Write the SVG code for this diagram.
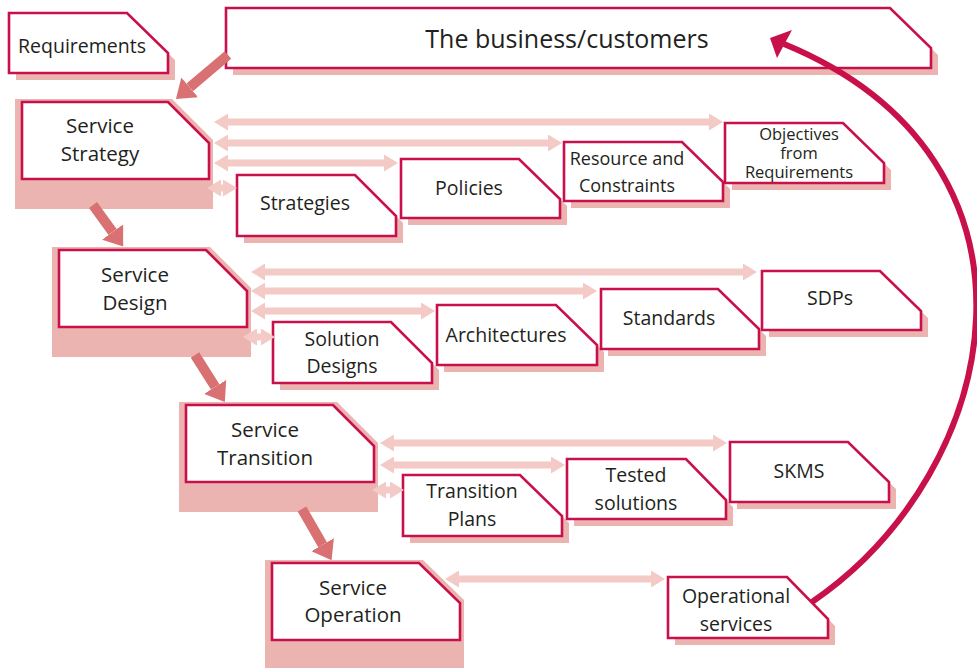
<svg xmlns="http://www.w3.org/2000/svg" width="977" height="668" viewBox="0 0 977 668">
<style>
.box{fill:#fff;stroke:#c8104a;stroke-width:2.6;stroke-linejoin:miter}
.sh{fill:#ecb4b1}
.t{font-family:"Open Sans","Noto Sans",sans-serif;fill:#231f20;text-anchor:middle}
.lg{font-size:20.5px}.md{font-size:19.5px}.sm{font-size:18px}.xs{font-size:16.5px}
.la{stroke:#f3cac5;stroke-width:7;fill:none;marker-start:url(#lh);marker-end:url(#lh)}
.ta{stroke:#d97072;stroke-width:10;fill:none;marker-end:url(#th)}
.cv{stroke:#c8104a;stroke-width:6;fill:none}
</style>
<defs>
<marker id="lh" viewBox="0 -8.5 14 17" markerWidth="14" markerHeight="17" refX="0" refY="0" markerUnits="userSpaceOnUse" orient="auto-start-reverse">
<path d="M0,-8.5 L14,0 L0,8.5 z" fill="#f3cac5"/>
</marker>
<marker id="th" viewBox="0 -13 18 26" markerWidth="18" markerHeight="26" refX="0" refY="0" markerUnits="userSpaceOnUse" orient="auto">
<path d="M0,-13 L18,0 L0,13 z" fill="#d97072"/>
</marker>
</defs>
<rect width="977" height="668" fill="#fff"/>

<g id="business">
<polygon class="sh" points="226,8 890,8 931,48 931,68 226,68" transform="translate(7,7)"/>
<polygon class="box" points="226,8 890,8 931,48 931,68 226,68"/>
<text class="t" x="567" y="48" font-size="25">The business/customers</text>
</g>
<g id="requirements">
<polygon class="sh" points="9,13 127,13 168,53 168,73 9,73" transform="translate(7,7)"/>
<polygon class="box" points="9,13 127,13 168,53 168,73 9,73"/>
<text class="t md" x="82" y="53">Requirements</text>
</g>
<g id="service-strategy">
<polygon class="sh" points="15,99 172,99 213,140 213,209 15,209"/>
<polygon class="box" points="22,102 168,102 209,143 209,179 22,179"/>
<text class="t lg" x="100" y="133">Service</text>
<text class="t lg" x="100" y="161">Strategy</text>
</g>
<g id="strategies">
<polygon class="sh" points="237,175 355,175 396,216 396,236 237,236" transform="translate(7,7)"/>
<polygon class="box" points="237,175 355,175 396,216 396,236 237,236"/>
<text class="t md" x="305" y="210">Strategies</text>
</g>
<g id="policies">
<polygon class="sh" points="401,159 519,159 560,199 560,218 401,218" transform="translate(7,7)"/>
<polygon class="box" points="401,159 519,159 560,199 560,218 401,218"/>
<text class="t md" x="469" y="195">Policies</text>
</g>
<g id="resource-constraints">
<polygon class="sh" points="564,142 682,142 723,182 723,201 564,201" transform="translate(7,7)"/>
<polygon class="box" points="564,142 682,142 723,182 723,201 564,201"/>
<text class="t sm" x="627" y="165">Resource and</text>
<text class="t sm" x="627" y="192">Constraints</text>
</g>
<g id="objectives">
<polygon class="sh" points="725,123 843,123 884,163 884,183 725,183" transform="translate(7,7)"/>
<polygon class="box" points="725,123 843,123 884,163 884,183 725,183"/>
<text class="t xs" x="799" y="140">Objectives</text>
<text class="t xs" x="799" y="159">from</text>
<text class="t xs" x="799" y="178">Requirements</text>
</g>
<g id="service-design">
<polygon class="sh" points="52,247 210,247 251,288 251,357 52,357"/>
<polygon class="box" points="59,250 206,250 247,291 247,327 59,327"/>
<text class="t lg" x="135" y="282">Service</text>
<text class="t lg" x="135" y="310">Design</text>
</g>
<g id="solution-designs">
<polygon class="sh" points="273,322 391,322 432,363 432,383 273,383" transform="translate(7,7)"/>
<polygon class="box" points="273,322 391,322 432,363 432,383 273,383"/>
<text class="t md" x="342" y="346">Solution</text>
<text class="t md" x="342" y="373">Designs</text>
</g>
<g id="architectures">
<polygon class="sh" points="437,305 556,305 597,345 597,365 437,365" transform="translate(7,7)"/>
<polygon class="box" points="437,305 556,305 597,345 597,365 437,365"/>
<text class="t md" x="506" y="342">Architectures</text>
</g>
<g id="standards">
<polygon class="sh" points="601,289 718,289 759,329 759,349 601,349" transform="translate(7,7)"/>
<polygon class="box" points="601,289 718,289 759,329 759,349 601,349"/>
<text class="t md" x="669" y="325">Standards</text>
</g>
<g id="sdps">
<polygon class="sh" points="762,271 880,271 921,311 921,330 762,330" transform="translate(7,7)"/>
<polygon class="box" points="762,271 880,271 921,311 921,330 762,330"/>
<text class="t md" x="830" y="305">SDPs</text>
</g>
<g id="service-transition">
<polygon class="sh" points="179,402 337,402 378,443 378,512 179,512"/>
<polygon class="box" points="186,405 333,405 374,446 374,482 186,482"/>
<text class="t lg" x="265" y="437">Service</text>
<text class="t lg" x="265" y="465">Transition</text>
</g>
<g id="transition-plans">
<polygon class="sh" points="403,475 520,475 562,516 562,536 403,536" transform="translate(7,7)"/>
<polygon class="box" points="403,475 520,475 562,516 562,536 403,536"/>
<text class="t md" x="472" y="498">Transition</text>
<text class="t md" x="472" y="526">Plans</text>
</g>
<g id="tested-solutions">
<polygon class="sh" points="567,459 686,459 726,500 726,519 567,519" transform="translate(7,7)"/>
<polygon class="box" points="567,459 686,459 726,500 726,519 567,519"/>
<text class="t md" x="636" y="482">Tested</text>
<text class="t md" x="636" y="510">solutions</text>
</g>
<g id="skms">
<polygon class="sh" points="730,442 848,442 889,482 889,502 730,502" transform="translate(7,7)"/>
<polygon class="box" points="730,442 848,442 889,482 889,502 730,502"/>
<text class="t md" x="799" y="478">SKMS</text>
</g>
<g id="service-operation">
<polygon class="sh" points="265,560 423,560 464,600 464,670 265,670"/>
<polygon class="box" points="272,563 419,563 460,603 460,640 272,640"/>
<text class="t lg" x="353" y="595">Service</text>
<text class="t lg" x="353" y="622">Operation</text>
</g>
<g id="operational-services">
<polygon class="sh" points="668,577 787,577 828,619 828,638 668,638" transform="translate(7,7)"/>
<polygon class="box" points="668,577 787,577 828,619 828,638 668,638"/>
<text class="t md" x="736" y="603">Operational</text>
<text class="t md" x="736" y="631">services</text>
</g>

<g id="connectors">
<line class="ta" x1="228" y1="55" x2="189.7" y2="87.4"/>
<line class="ta" x1="93" y1="205" x2="112.6" y2="232"/>
<line class="ta" x1="195" y1="355" x2="215.2" y2="386.9"/>
<line class="ta" x1="302" y1="509" x2="322.6" y2="544.7"/>

<line class="la" x1="228" y1="122" x2="709" y2="122"/>
<line class="la" x1="228" y1="143" x2="548" y2="143"/>
<line class="la" x1="228" y1="163" x2="384" y2="163"/>
<line class="la" x1="221" y1="188" x2="223" y2="188"/>

<line class="la" x1="265" y1="272" x2="743" y2="272"/>
<line class="la" x1="265" y1="291" x2="583" y2="291"/>
<line class="la" x1="265" y1="311" x2="421" y2="311"/>
<line class="la" x1="257" y1="337" x2="261" y2="337"/>

<line class="la" x1="394" y1="443" x2="713" y2="443"/>
<line class="la" x1="394" y1="465" x2="551" y2="465"/>
<line class="la" x1="386" y1="490" x2="390" y2="490"/>

<line class="la" x1="459" y1="579" x2="651" y2="579"/>

<path class="cv" d="M812,602 C1005,470 1066,160 784,44"/>
<polygon points="770,38 792,30 777,58" fill="#c8104a"/>
</g>
</svg>
